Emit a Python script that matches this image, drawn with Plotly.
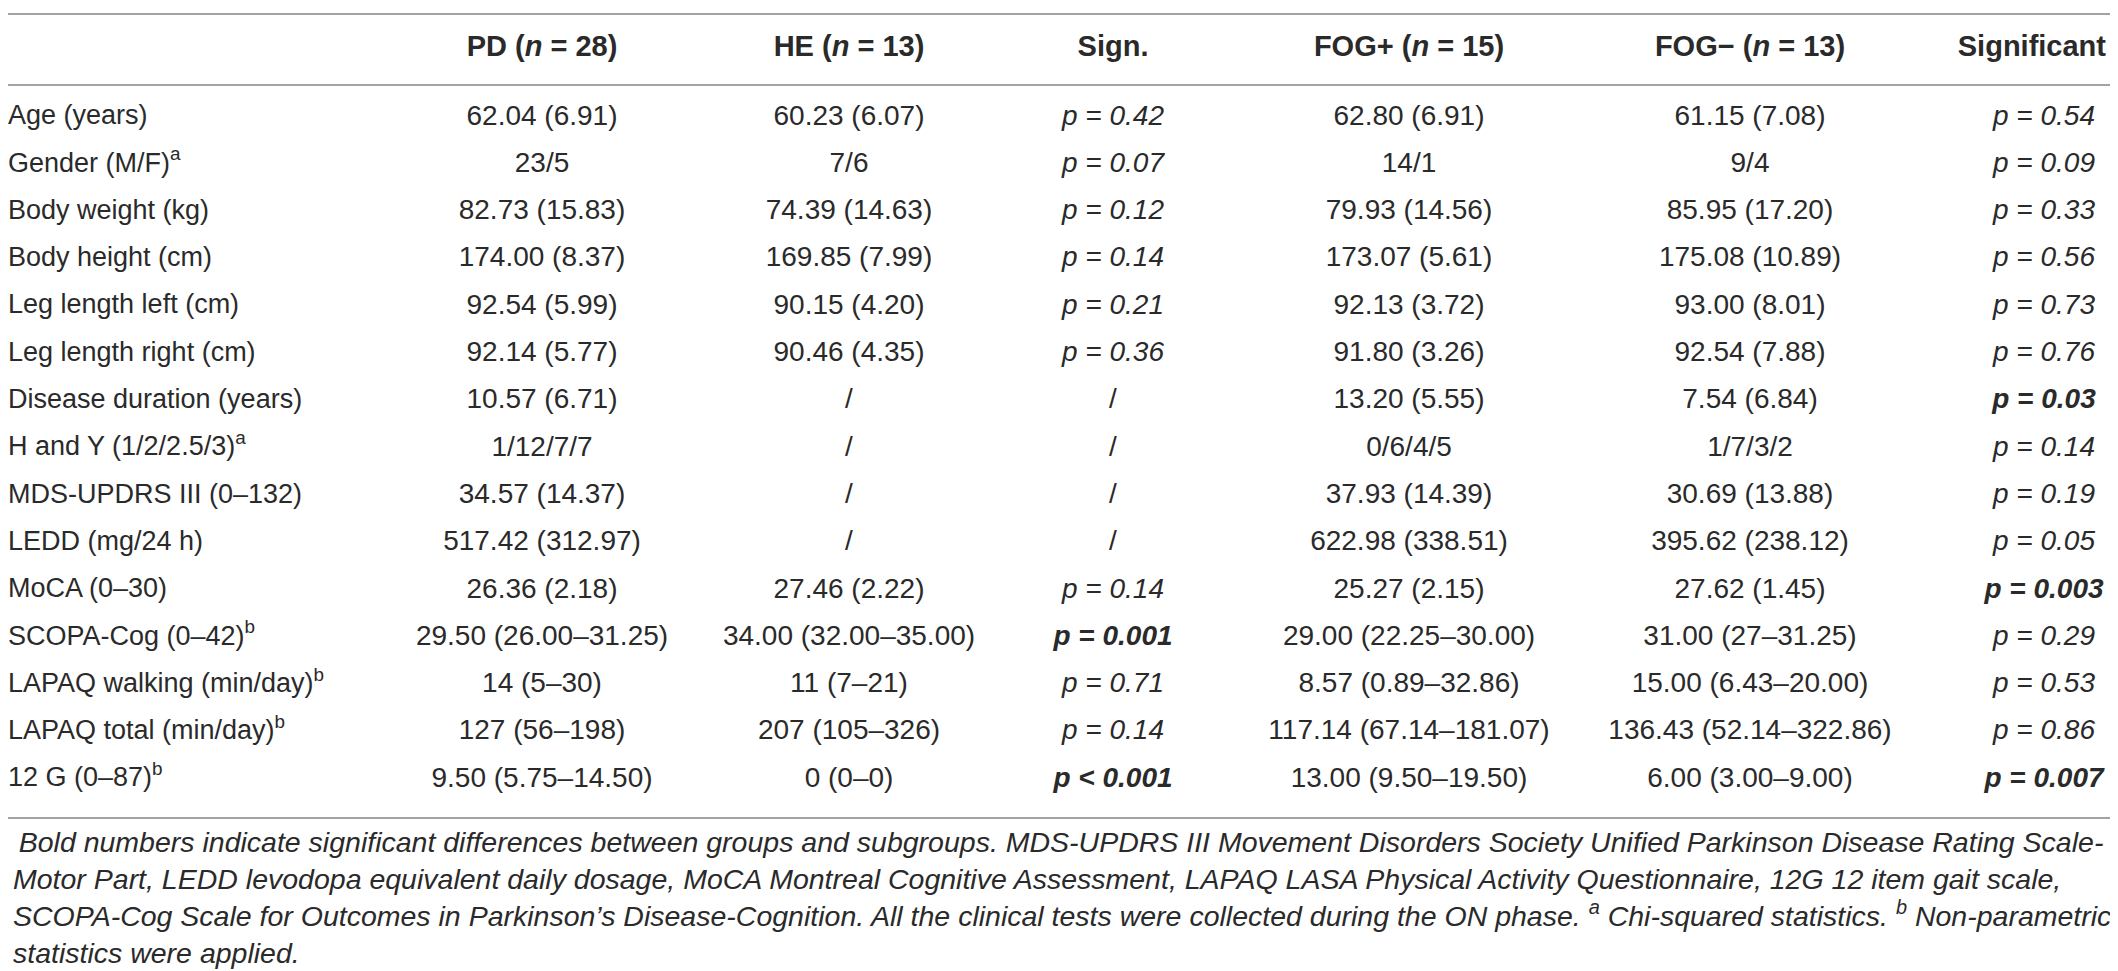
import plotly.graph_objects as go

# table contents
row_labels = [
    "Age (years)", "Gender (M/F)<sup>a</sup>", "Body weight (kg)", "Body height (cm)",
    "Leg length left (cm)", "Leg length right (cm)", "Disease duration (years)",
    "H and Y (1/2/2.5/3)<sup>a</sup>", "MDS-UPDRS III (0–132)", "LEDD (mg/24 h)",
    "MoCA (0–30)", "SCOPA-Cog (0–42)<sup>b</sup>", "LAPAQ walking (min/day)<sup>b</sup>",
    "LAPAQ total (min/day)<sup>b</sup>", "12 G (0–87)<sup>b</sup>",
]
pd_group = [
    "62.04 (6.91)", "23/5", "82.73 (15.83)", "174.00 (8.37)", "92.54 (5.99)",
    "92.14 (5.77)", "10.57 (6.71)", "1/12/7/7", "34.57 (14.37)", "517.42 (312.97)",
    "26.36 (2.18)", "29.50 (26.00–31.25)", "14 (5–30)", "127 (56–198)", "9.50 (5.75–14.50)",
]
he_group = [
    "60.23 (6.07)", "7/6", "74.39 (14.63)", "169.85 (7.99)", "90.15 (4.20)",
    "90.46 (4.35)", "/", "/", "/", "/",
    "27.46 (2.22)", "34.00 (32.00–35.00)", "11 (7–21)", "207 (105–326)", "0 (0–0)",
]
sign_p = [
    "p = 0.42", "p = 0.07", "p = 0.12", "p = 0.14", "p = 0.21", "p = 0.36", "/", "/", "/", "/",
    "p = 0.14", "p = 0.001", "p = 0.71", "p = 0.14", "p < 0.001",
]
sign_bold = [False] * 11 + [True, False, False, True]
fog_plus = [
    "62.80 (6.91)", "14/1", "79.93 (14.56)", "173.07 (5.61)", "92.13 (3.72)",
    "91.80 (3.26)", "13.20 (5.55)", "0/6/4/5", "37.93 (14.39)", "622.98 (338.51)",
    "25.27 (2.15)", "29.00 (22.25–30.00)", "8.57 (0.89–32.86)", "117.14 (67.14–181.07)",
    "13.00 (9.50–19.50)",
]
fog_minus = [
    "61.15 (7.08)", "9/4", "85.95 (17.20)", "175.08 (10.89)", "93.00 (8.01)",
    "92.54 (7.88)", "7.54 (6.84)", "1/7/3/2", "30.69 (13.88)", "395.62 (238.12)",
    "27.62 (1.45)", "31.00 (27–31.25)", "15.00 (6.43–20.00)", "136.43 (52.14–322.86)",
    "6.00 (3.00–9.00)",
]
signif_p = [
    "p = 0.54", "p = 0.09", "p = 0.33", "p = 0.56", "p = 0.73", "p = 0.76", "p = 0.03",
    "p = 0.14", "p = 0.19", "p = 0.05", "p = 0.003", "p = 0.29", "p = 0.53", "p = 0.86",
    "p = 0.007",
]
signif_bold = [False] * 6 + [True] + [False] * 3 + [True] + [False] * 3 + [True]

headers = ["PD (<i>n</i> = 28)", "HE (<i>n</i> = 13)", "Sign.",
           "FOG+ (<i>n</i> = 15)", "FOG− (<i>n</i> = 13)", "Significant"]

footnote = (
    "\u2009Bold numbers indicate significant differences between groups and subgroups. "
    "MDS-UPDRS III Movement Disorders Society Unified Parkinson Disease Rating Scale-<br>"
    "Motor Part, LEDD levodopa equivalent daily dosage, MoCA Montreal Cognitive Assessment, "
    "LAPAQ LASA Physical Activity Questionnaire, 12G 12 item gait scale,<br>"
    "SCOPA-Cog Scale for Outcomes in Parkinson’s Disease-Cognition. All the clinical tests "
    "were collected during the ON phase. <sup>a</sup> Chi-squared statistics. "
    "<sup>b</sup> Non-parametric<br>statistics were applied."
)


def fmt_p(vals, bold):
    out = []
    for v, b in zip(vals, bold):
        if v == "/":
            out.append(v)
        elif b:
            out.append("<b><i>" + v + "</i></b>")
        else:
            out.append("<i>" + v + "</i>")
    return out


W, H = 2118, 971
FONT = "Liberation Sans"
TEXT = "#2a2a2a"
RULE = "#a3a3a3"
ROW0_PX, ROW_PX = 109.5, 47.3   # pixel centre of first body row, row pitch


def px_row(p):
    return (p - ROW0_PX) / ROW_PX


n = len(row_labels)
rows = list(range(n))
header_y = px_row(41)

# (cells, x of cells, x of header, header textposition)
columns = [
    (pd_group, 534, 534, "middle center"),
    (he_group, 841, 841, "middle center"),
    (fmt_p(sign_p, sign_bold), 1105, 1105, "middle center"),
    (fog_plus, 1401, 1401, "middle center"),
    (fog_minus, 1742, 1742, "middle center"),
    (fmt_p(signif_p, signif_bold), 2036, 2098, "middle left"),
]

fig = go.Figure()

# row labels, left aligned
fig.add_trace(go.Scatter(
    x=[0] * n, y=rows, mode="text", text=row_labels, textposition="middle right",
    textfont=dict(family=FONT, size=27, color=TEXT),
    hoverinfo="skip", showlegend=False, cliponaxis=False,
))

for head, (cells, xc, xh, hpos) in zip(headers, columns):
    fig.add_trace(go.Scatter(
        x=[xh] + [xc] * n,
        y=[header_y] + rows,
        mode="text",
        text=["<b>" + head + "</b>"] + cells,
        textposition=[hpos] + ["middle center"] * n,
        textfont=dict(family=FONT, size=[29] + [28] * n, color=TEXT),
        hoverinfo="skip", showlegend=False, cliponaxis=False,
    ))

for p in (6, 77, 810):
    fig.add_shape(type="line", xref="paper", x0=0, x1=1, yref="y", y0=px_row(p), y1=px_row(p),
                  line=dict(color=RULE, width=2))

fig.add_annotation(
    text=footnote, xref="x", x=3, xanchor="left", yref="y", y=px_row(816), yanchor="top",
    showarrow=False, align="left",
    font=dict(family=FONT, size=28.5, color=TEXT, style="italic"),
)

fig.update_layout(
    width=W, height=H,
    margin=dict(l=0, r=0, t=0, b=0),
    paper_bgcolor="white", plot_bgcolor="white",
    xaxis=dict(visible=False, range=[0, W], fixedrange=True),
    yaxis=dict(visible=False, range=[px_row(H), px_row(0)], fixedrange=True),
)

fig.write_html("out.html")
